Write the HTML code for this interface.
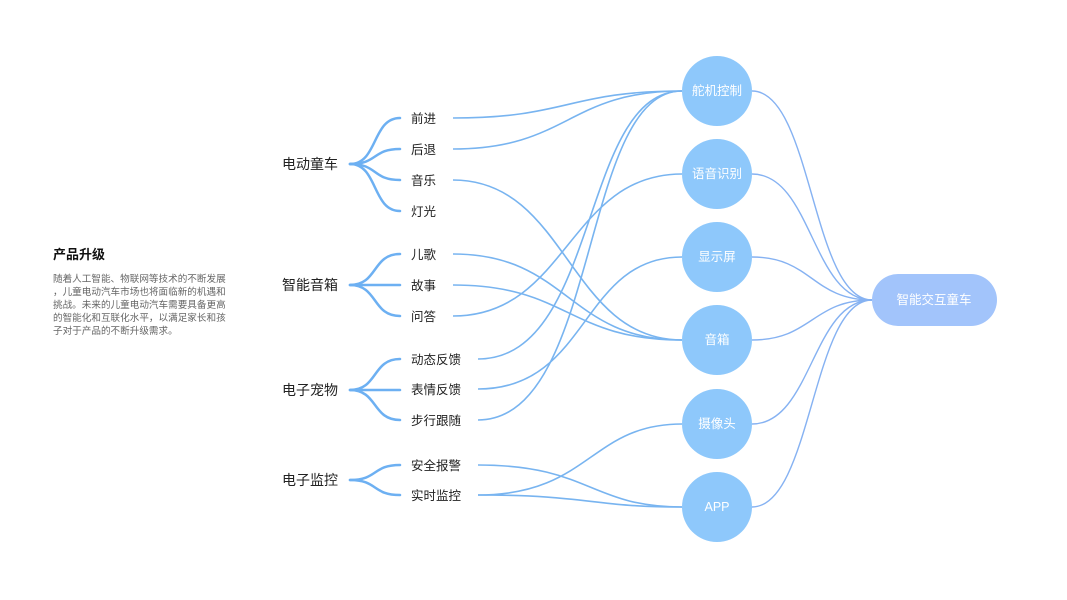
<!DOCTYPE html>
<html><head><meta charset="utf-8"><style>
html,body{margin:0;padding:0;background:#fff;}
body{width:1067px;height:600px;position:relative;overflow:hidden;font-family:"Liberation Sans","Noto Sans CJK SC",sans-serif;}
svg{position:absolute;left:0;top:0;}
.t{position:absolute;}
</style></head><body>
<svg width="1067" height="600" viewBox="0 0 1067 600">
<g fill="none" stroke="#6db0f2" stroke-width="2.5" stroke-linecap="round">
<path d="M350,164 C378,164 372,118 400,118"/>
<path d="M350,164 C378,164 372,149 400,149"/>
<path d="M350,164 C378,164 372,180 400,180"/>
<path d="M350,164 C378,164 372,211 400,211"/>
<path d="M350,285 C378,285 372,254 400,254"/>
<path d="M350,285 C378,285 372,285 400,285"/>
<path d="M350,285 C378,285 372,316 400,316"/>
<path d="M350,390 C378,390 372,359 400,359"/>
<path d="M350,390 C378,390 372,390 400,390"/>
<path d="M350,390 C378,390 372,420 400,420"/>
<path d="M350,480 C378,480 372,465 400,465"/>
<path d="M350,480 C378,480 372,495 400,495"/>
</g>
<g fill="none" stroke="#78b4f0" stroke-width="1.6">
<path d="M453,118 C568,118 568,91 682,91"/>
<path d="M453,149 C568,149 568,91 682,91"/>
<path d="M453,180 C568,180 568,340 682,340"/>
<path d="M453,254 C568,254 568,340 682,340"/>
<path d="M453,285 C568,285 568,340 682,340"/>
<path d="M453,316 C568,316 568,174 682,174"/>
<path d="M478,359 C600,359 580,91 682,91"/>
<path d="M478,389 C590,389 580,257 682,257"/>
<path d="M478,420 C600,420 580,91 682,91"/>
<path d="M478,465 C590,465 590,507 682,507"/>
<path d="M478,495 C590,495 590,424 682,424"/>
<path d="M478,495 C590,495 590,507 682,507"/>
</g>
<g fill="none" stroke="#86b2f2" stroke-width="1.4">
<path d="M752,91 C812,91 812,300 872,300"/>
<path d="M752,174 C812,174 812,300 872,300"/>
<path d="M752,257 C812,257 812,300 872,300"/>
<path d="M752,340 C812,340 812,300 872,300"/>
<path d="M752,424 C812,424 812,300 872,300"/>
<path d="M752,507 C812,507 812,300 872,300"/>
</g>
<g fill="#8ec8fb">
<circle cx="717" cy="91" r="35"/><circle cx="717" cy="174" r="35"/><circle cx="717" cy="257" r="35"/>
<circle cx="717" cy="340" r="35"/><circle cx="717" cy="424" r="35"/><circle cx="717" cy="507" r="35"/>
</g>
<rect x="872" y="274" width="125" height="52" rx="26" fill="#a2c4fb"/>
<g fill="#fff" font-size="12.5" text-anchor="middle" font-family="Liberation Sans, Noto Sans CJK SC, sans-serif">
<text x="717" y="95">舵机控制</text><text x="717" y="178">语音识别</text><text x="717" y="261">显示屏</text>
<text x="717" y="344">音箱</text><text x="717" y="428">摄像头</text><text x="717" y="511">APP</text>
<text x="934" y="304">智能交互童车</text>
</g>
<g fill="#222" font-size="14">
<text x="282" y="169">电动童车</text><text x="282" y="290">智能音箱</text>
<text x="282" y="395">电子宠物</text><text x="282" y="485">电子监控</text>
</g>
<g fill="#222" font-size="12.5">
<text x="411" y="123">前进</text><text x="411" y="154">后退</text><text x="411" y="185">音乐</text><text x="411" y="216">灯光</text>
<text x="411" y="259">儿歌</text><text x="411" y="290">故事</text><text x="411" y="321">问答</text>
<text x="411" y="364">动态反馈</text><text x="411" y="394">表情反馈</text><text x="411" y="425">步行跟随</text>
<text x="411" y="470">安全报警</text><text x="411" y="500">实时监控</text>
</g>
<text x="53" y="259" font-size="13" font-weight="bold" fill="#111">产品升级</text>
<g fill="#666" font-size="9.6">
<text x="53" y="282">随着人工智能、物联网等技术的不断发展</text>
<text x="53" y="295">，儿童电动汽车市场也将面临新的机遇和</text>
<text x="53" y="308">挑战。未来的儿童电动汽车需要具备更高</text>
<text x="53" y="321">的智能化和互联化水平，以满足家长和孩</text>
<text x="53" y="334">子对于产品的不断升级需求。</text>
</g>
</svg>
</body></html>
